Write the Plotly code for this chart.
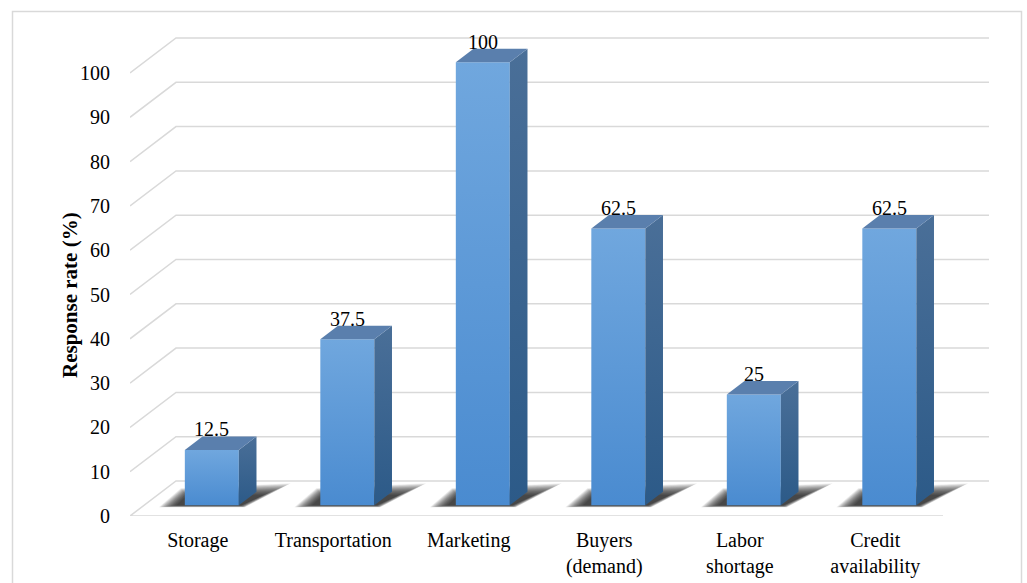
import plotly.graph_objects as go

# Survey results: share of respondents naming each constraint
categories = ["Storage", "Transportation", "Marketing", "Buyers<br>(demand)",
              "Labor<br>shortage", "Credit<br>availability"]
values = [12.5, 37.5, 100, 62.5, 25, 62.5]
value_labels = ["12.5", "37.5", "100", "62.5", "25", "62.5"]
y_ticks = list(range(0, 101, 10))

# --- pseudo-3D geometry (axis units) ---
PX_PER_CAT = 135.5          # pixels per category on the front plane
PX_PER_VAL = 4.43           # pixels per value unit
DX = 46 / PX_PER_CAT        # floor depth, x-shift in category units
DV = 35 / PX_PER_VAL        # floor depth, y-shift in value units
F1, F2 = 0.306, 0.69        # bar front / back depth fractions
W = 54 / PX_PER_CAT         # bar width
N = len(categories)

GRID = "#d9d9d9"
FONT = "Liberation Serif, Times New Roman, serif"

fig = go.Figure()

# walls and floor gridlines
gx, gy = [], []
for v in y_ticks:
    if v == 0:
        gx += [N - 0.5, -0.5]
        gy += [0, 0]
    else:
        gx += [-0.5]
        gy += [v]
    gx += [-0.5 + DX, N - 0.5 + DX, None]
    gy += [v + DV, v + DV, None]
fig.add_trace(go.Scatter(x=gx, y=gy, mode="lines",
                         line=dict(color=GRID, width=1.5),
                         hoverinfo="skip", showlegend=False))


def poly(xs, ys, **kw):
    fig.add_trace(go.Scatter(x=xs + [xs[0]], y=ys + [ys[0]], mode="lines",
                             fill="toself", line=dict(width=0),
                             hoverinfo="skip", showlegend=False, **kw))


# shadow outline as pixel offsets from the bar's front base corners
# (front-left, back-left, back-right, front-right); inner core and outer edge
SH_CORE = [(-8, 0), (2, 9), (24, 10), (2, 0)]
SH_OUTER = [(-26, -2), (-4, 17), (52, 22), (6, -2)]
SH_LAYERS = 20

d = F2 - F1
for i, v in enumerate(values):
    cx = i + F1 * DX
    xl, xr = cx - W / 2, cx + W / 2
    y0 = F1 * DV
    y1 = y0 + v

    # soft floor shadow, stacked translucent layers from edge to core
    anchors = [xl, xl, xr, xr]
    for k in range(SH_LAYERS):
        s = 1 - k / (SH_LAYERS - 1)
        xs, ys = [], []
        for a, (cx0, cy0), (ox, oy) in zip(anchors, SH_CORE, SH_OUTER):
            px = cx0 + s * (ox - cx0)
            py = cy0 + s * (oy - cy0)
            xs.append(a + px / PX_PER_CAT)
            ys.append(y0 + py / PX_PER_VAL)
        poly(xs, ys, fillcolor="rgba(20,20,20,0.065)")

    # front face
    poly([xl, xr, xr, xl], [y0, y0, y1, y1],
         fillgradient=dict(type="vertical",
                           colorscale=[[0, "#4a8bd0"], [1, "#70a7de"]]))
    # side face
    poly([xr, xr + d * DX, xr + d * DX, xr],
         [y0, y0 + d * DV, y1 + d * DV, y1],
         fillgradient=dict(type="vertical",
                           colorscale=[[0, "#2c5a88"], [1, "#4a6f98"]]))
    # top face
    poly([xl, xr, xr + d * DX, xl + d * DX],
         [y1, y1, y1 + d * DV, y1 + d * DV],
         fillcolor="#5a7fad")

    fig.add_annotation(x=cx, y=y1 + d * DV, text=value_labels[i],
                       showarrow=False, xanchor="center", yanchor="bottom",
                       yshift=-6, font=dict(family=FONT, size=20, color="#000"))

# axis title
fig.add_annotation(x=(70 - 130) / 870, y=(516 - 295) / 496, xref="paper", yref="paper",
                   text="<b>Response rate (%)</b>", textangle=-90, showarrow=False,
                   xanchor="center", yanchor="middle",
                   font=dict(family=FONT, size=21, color="#000"))

# chart border
fig.add_shape(type="rect", xref="paper", yref="paper",
              x0=(12.5 - 130) / 870, x1=(1021.5 - 130) / 870,
              y0=(516 - 600) / 496, y1=(516 - 11.5) / 496,
              line=dict(color=GRID, width=1.5), layer="below")

fig.update_layout(
    width=1027, height=583,
    margin=dict(l=130, r=27, t=20, b=67, autoexpand=False),
    plot_bgcolor="white", paper_bgcolor="white",
    font=dict(family=FONT, size=20, color="#000"),
    xaxis=dict(range=[-0.5, 6.4207 - 0.5], tickmode="array",
               tickvals=list(range(N)), ticktext=categories,
               showgrid=False, zeroline=False, showline=False, automargin=False,
               ticks="outside", ticklen=6, tickcolor="rgba(0,0,0,0)",
               tickfont=dict(family=FONT, size=20, color="#000"),
               fixedrange=True),
    yaxis=dict(range=[0, 496 / PX_PER_VAL], tickmode="array",
               tickvals=y_ticks, ticktext=[str(t) for t in y_ticks],
               showgrid=False, zeroline=False, showline=False, automargin=False,
               ticks="outside", ticklen=15, tickcolor="rgba(0,0,0,0)",
               tickfont=dict(family=FONT, size=20, color="#000"),
               fixedrange=True),
    showlegend=False,
)

fig.write_html("out.html")
